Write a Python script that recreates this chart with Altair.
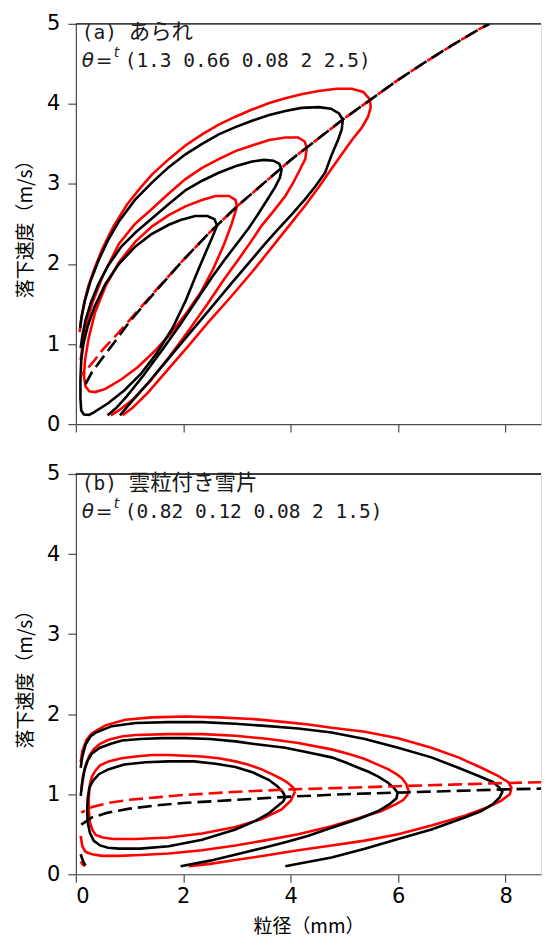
import altair as alt
import pandas as pd

X_TICKS = [0, 2, 4, 6, 8]
Y_TICKS = [0, 1, 2, 3, 4, 5]
X_DOMAIN = [0, 8.66]
Y_DOMAIN = [0, 5]

LABEL_A = ("(a)", "あられ")
LABEL_B = ("(b)", "雲粒付き雪片")
THETA_A = "(1.3 0.66 0.08 2 2.5)"
THETA_B = "(0.82 0.12 0.08 2 1.5)"
X_TITLE = "粒径（mm）"
Y_TITLE = "落下速度（m/s）"

# ---------------- panel (a) : contours (D [mm], V [m/s]) ----------------
A_BLACK_1 = [(2.63, 2.48), (2.58, 2.56), (2.45, 2.60), (2.22, 2.60), (1.95, 2.55), (1.73, 2.49),
             (1.40, 2.37), (1.11, 2.22), (0.80, 2.00), (0.55, 1.75), (0.35, 1.47), (0.22, 1.22),
             (0.14, 1.00), (0.10, 0.80), (0.085, 0.55), (0.085, 0.32), (0.10, 0.17), (0.15, 0.12),
             (0.24, 0.115), (0.32, 0.14), (0.60, 0.26), (0.90, 0.42), (1.20, 0.62), (1.50, 0.88),
             (1.80, 1.20), (2.05, 1.55), (2.25, 1.88), (2.42, 2.15), (2.55, 2.35), (2.63, 2.48)]
A_RED_1 = [(3.00, 2.72), (2.97, 2.80), (2.85, 2.85), (2.60, 2.85), (2.35, 2.80), (2.04, 2.72),
           (1.73, 2.61), (1.42, 2.47), (1.11, 2.28), (0.80, 2.02), (0.55, 1.72), (0.36, 1.40),
           (0.24, 1.08), (0.17, 0.80), (0.15, 0.60), (0.18, 0.47), (0.25, 0.41), (0.36, 0.40),
           (0.55, 0.44), (0.85, 0.56), (1.15, 0.71), (1.45, 0.90), (1.75, 1.12), (2.05, 1.38),
           (2.32, 1.64), (2.55, 1.93), (2.75, 2.23), (2.90, 2.50), (3.00, 2.72)]
A_BLACK_2 = [(0.09, 0.95), (0.12, 1.10), (0.18, 1.30), (0.28, 1.52), (0.42, 1.75), (0.60, 1.98),
             (0.85, 2.22), (1.12, 2.40), (1.42, 2.57), (1.73, 2.75), (2.04, 2.92), (2.35, 3.04),
             (2.66, 3.14), (2.97, 3.22), (3.28, 3.28), (3.50, 3.30), (3.68, 3.29), (3.79, 3.25),
             (3.83, 3.18), (3.80, 3.08), (3.71, 2.96), (3.56, 2.80), (3.40, 2.63), (3.22, 2.45),
             (3.03, 2.28), (2.80, 2.08), (2.55, 1.85), (2.25, 1.55), (1.95, 1.25), (1.60, 0.92),
             (1.25, 0.60), (0.95, 0.35), (0.75, 0.20), (0.59, 0.11)]
A_RED_2 = [(0.09, 0.80), (0.12, 0.98), (0.18, 1.20), (0.30, 1.50), (0.50, 1.85), (0.80, 2.25),
           (1.10, 2.50), (1.42, 2.69), (1.73, 2.88), (2.04, 3.06), (2.35, 3.20), (2.66, 3.31),
           (2.97, 3.41), (3.28, 3.48), (3.60, 3.55), (3.90, 3.58), (4.14, 3.58), (4.26, 3.53),
           (4.30, 3.45), (4.27, 3.31), (4.18, 3.19), (4.05, 3.02), (3.90, 2.85), (3.68, 2.66),
           (3.46, 2.48), (3.25, 2.27), (3.03, 2.06), (2.75, 1.80), (2.45, 1.50), (2.10, 1.17),
           (1.75, 0.85), (1.40, 0.55), (1.05, 0.30), (0.80, 0.17), (0.65, 0.11)]
A_BLACK_3 = [(0.08, 1.20), (0.11, 1.35), (0.17, 1.55), (0.27, 1.78), (0.42, 2.04), (0.60, 2.30),
             (0.80, 2.53), (1.10, 2.80), (1.42, 3.02), (1.73, 3.21), (2.04, 3.37), (2.35, 3.50),
             (2.66, 3.62), (2.97, 3.71), (3.28, 3.79), (3.60, 3.86), (3.90, 3.91), (4.20, 3.95),
             (4.52, 3.96), (4.75, 3.94), (4.90, 3.88), (4.97, 3.80), (4.95, 3.68), (4.88, 3.55),
             (4.76, 3.36), (4.64, 3.14), (4.46, 2.97), (4.27, 2.81), (4.02, 2.62), (3.77, 2.44),
             (3.52, 2.25), (3.28, 2.06), (2.90, 1.76), (2.50, 1.44), (2.10, 1.12), (1.70, 0.80),
             (1.35, 0.52), (1.05, 0.29), (0.82, 0.11)]
A_RED_3 = [(0.07, 1.15), (0.10, 1.32), (0.15, 1.50), (0.23, 1.72), (0.35, 1.95), (0.50, 2.20),
           (0.70, 2.47), (0.95, 2.74), (1.20, 2.95), (1.42, 3.12), (1.73, 3.31), (2.04, 3.48),
           (2.35, 3.62), (2.66, 3.74), (2.97, 3.84), (3.28, 3.93), (3.60, 4.01), (3.90, 4.07),
           (4.20, 4.12), (4.52, 4.16), (4.85, 4.19), (5.14, 4.19), (5.35, 4.15), (5.47, 4.06),
           (5.49, 3.96), (5.44, 3.84), (5.32, 3.70), (5.14, 3.55), (4.96, 3.38), (4.76, 3.19),
           (4.52, 2.96), (4.27, 2.73), (4.02, 2.52), (3.77, 2.31), (3.52, 2.10), (3.28, 1.90),
           (2.90, 1.60), (2.50, 1.30), (2.10, 0.98), (1.70, 0.67), (1.35, 0.40), (1.05, 0.20),
           (0.87, 0.11)]
A_DASH_BLACK = [(0.18, 0.50), (0.30, 0.65), (0.50, 0.83), (0.75, 1.05), (1.00, 1.28), (1.50, 1.67),
                (2.00, 2.05), (2.50, 2.40), (3.00, 2.72), (3.50, 3.01), (4.00, 3.30), (4.50, 3.56),
                (5.00, 3.82), (5.50, 4.06), (6.00, 4.30), (6.50, 4.52), (7.00, 4.73), (7.50, 4.93),
                (7.70, 5.00)]
A_DASH_RED = [(0.10, 0.62), (0.20, 0.68), (0.35, 0.80), (0.50, 0.93), (0.75, 1.11), (1.00, 1.30),
              (1.50, 1.68), (2.00, 2.05), (2.50, 2.40), (3.00, 2.72), (3.50, 3.01), (4.00, 3.30),
              (4.50, 3.56), (5.00, 3.82), (5.50, 4.06), (6.00, 4.30), (6.50, 4.52), (7.00, 4.73),
              (7.50, 4.93), (7.70, 5.00)]

# ---------------- panel (b) ----------------
B_BLACK_1 = [(3.90, 0.96), (3.86, 1.02), (3.75, 1.10), (3.59, 1.18), (3.30, 1.27), (2.97, 1.34),
             (2.60, 1.38), (2.20, 1.41), (1.73, 1.41), (1.30, 1.40), (0.90, 1.37), (0.60, 1.31),
             (0.43, 1.25), (0.32, 1.17), (0.25, 1.08), (0.22, 0.95), (0.21, 0.80), (0.22, 0.65),
             (0.26, 0.52), (0.33, 0.42), (0.45, 0.36), (0.60, 0.33), (0.80, 0.32), (1.20, 0.32),
             (1.73, 0.35), (2.35, 0.43), (2.97, 0.56), (3.35, 0.67), (3.59, 0.76), (3.75, 0.85),
             (3.86, 0.91), (3.90, 0.96)]
B_RED_1 = [(4.08, 1.03), (4.05, 1.08), (3.95, 1.14), (3.83, 1.19), (3.65, 1.25), (3.46, 1.31),
           (3.20, 1.37), (2.97, 1.41), (2.66, 1.45), (2.35, 1.47), (2.04, 1.48), (1.73, 1.49),
           (1.42, 1.49), (1.11, 1.47), (0.85, 1.45), (0.61, 1.41), (0.45, 1.36), (0.37, 1.30),
           (0.30, 1.22), (0.26, 1.12), (0.24, 0.95), (0.24, 0.80), (0.26, 0.65), (0.31, 0.55),
           (0.37, 0.49), (0.50, 0.46), (0.70, 0.44), (1.11, 0.44), (1.73, 0.46), (2.35, 0.51),
           (2.97, 0.59), (3.46, 0.69), (3.83, 0.81), (4.00, 0.92), (4.08, 1.03)]
B_BLACK_2 = [(0.09, 0.98), (0.12, 1.15), (0.16, 1.30), (0.22, 1.42), (0.30, 1.51), (0.45, 1.58),
             (0.65, 1.63), (0.86, 1.67), (1.20, 1.69), (1.60, 1.70), (2.04, 1.70), (2.50, 1.69),
             (2.97, 1.66), (3.40, 1.62), (3.90, 1.58), (4.33, 1.52), (4.76, 1.46), (5.05, 1.39),
             (5.26, 1.33), (5.45, 1.28), (5.63, 1.22), (5.80, 1.15), (5.92, 1.08), (5.99, 1.02),
             (5.97, 0.95), (5.85, 0.88), (5.63, 0.79), (5.26, 0.69), (4.76, 0.58), (4.33, 0.48),
             (3.90, 0.40), (3.50, 0.33), (3.00, 0.25), (2.50, 0.17), (1.95, 0.10)]
B_RED_2 = [(0.10, 1.04), (0.13, 1.22), (0.18, 1.36), (0.25, 1.48), (0.33, 1.56), (0.45, 1.63),
           (0.61, 1.68), (0.85, 1.72), (1.11, 1.74), (1.73, 1.75), (2.35, 1.75), (2.97, 1.73),
           (3.59, 1.69), (4.14, 1.64), (4.76, 1.56), (5.10, 1.50), (5.38, 1.44), (5.62, 1.37),
           (5.82, 1.31), (5.97, 1.25), (6.07, 1.20), (6.15, 1.13), (6.19, 1.05), (6.17, 0.99),
           (6.10, 0.93), (5.97, 0.88), (5.69, 0.79), (5.26, 0.70), (4.76, 0.60), (4.14, 0.50),
           (3.50, 0.42), (2.97, 0.36), (2.35, 0.30), (1.73, 0.26), (1.20, 0.24), (0.80, 0.23),
           (0.49, 0.23), (0.30, 0.25), (0.18, 0.28), (0.12, 0.35), (0.09, 0.48)]
B_BLACK_3 = [(0.09, 1.33), (0.12, 1.47), (0.18, 1.62), (0.27, 1.72), (0.37, 1.77), (0.67, 1.85),
             (1.11, 1.89), (1.73, 1.90), (2.35, 1.90), (2.97, 1.88), (3.59, 1.85), (4.14, 1.82),
             (4.76, 1.77), (5.38, 1.69), (6.00, 1.58), (6.62, 1.46), (7.12, 1.33), (7.49, 1.23),
             (7.77, 1.15), (7.89, 1.08), (7.94, 1.03), (7.89, 0.96), (7.77, 0.88), (7.55, 0.79),
             (7.24, 0.71), (6.62, 0.56), (6.00, 0.44), (5.38, 0.32), (4.76, 0.21), (4.14, 0.13),
             (3.90, 0.10)]
B_RED_3 = [(0.09, 1.40), (0.12, 1.54), (0.20, 1.68), (0.30, 1.76), (0.55, 1.86), (0.92, 1.93),
           (1.42, 1.96), (2.04, 1.97), (2.66, 1.96), (3.28, 1.94), (3.90, 1.90), (4.33, 1.87),
           (4.76, 1.83), (5.38, 1.78), (6.00, 1.70), (6.62, 1.58), (7.12, 1.46), (7.55, 1.33),
           (7.86, 1.23), (8.05, 1.15), (8.11, 1.08), (8.08, 1.00), (7.92, 0.92), (7.68, 0.84),
           (7.24, 0.73), (6.62, 0.61), (6.00, 0.50), (5.38, 0.42), (4.76, 0.36), (4.14, 0.30),
           (3.50, 0.23), (3.00, 0.18), (2.50, 0.13), (2.10, 0.10)]
B_BLACK_CORNER = [(0.09, 0.25), (0.12, 0.19), (0.15, 0.14), (0.18, 0.11)]
B_RED_CORNER = [(0.09, 0.16), (0.13, 0.12), (0.17, 0.10)]
B_DASH_BLACK = [(0.10, 0.62), (0.30, 0.71), (0.60, 0.77), (1.00, 0.82), (1.50, 0.86), (2.00, 0.89),
                (3.00, 0.93), (4.00, 0.97), (5.00, 1.00), (6.00, 1.02), (7.00, 1.04), (8.00, 1.06),
                (8.66, 1.07)]
B_DASH_RED = [(0.10, 0.77), (0.30, 0.84), (0.60, 0.89), (1.00, 0.93), (1.50, 0.96), (2.00, 0.99),
              (3.00, 1.03), (4.00, 1.06), (5.00, 1.08), (6.00, 1.10), (7.00, 1.12), (8.00, 1.14),
              (8.66, 1.15)]

MONO_FONT = "DejaVu Sans Mono"
CJK_FONT = "Noto Sans CJK JP"
TICK_FONT = "DejaVu Sans"
AXIS_COLOR = "#4d4d4d"
TEXT_COLOR = "#1a1a1a"
LINE_W = 2.6


def to_df(curves):
    rows = []
    for name, pts in curves:
        for i, (d, v) in enumerate(pts):
            rows.append({"curve": name, "i": i, "D": d, "V": v})
    return pd.DataFrame(rows)


def panel(red_curves, black_curves, dash_red, dash_black, label, theta, bottom):
    xaxis = alt.Axis(values=X_TICKS, tickSize=8, labelPadding=3, labelFontSize=21,
                     labelFont=TICK_FONT, labelColor="black", domainColor=AXIS_COLOR,
                     tickColor=AXIS_COLOR, domainWidth=1.2, tickWidth=1.2, grid=False,
                     labels=bottom, title=X_TITLE if bottom else None,
                     titleFont=CJK_FONT, titleFontSize=19, titleFontWeight="normal",
                     titlePadding=11, titleColor="black")
    yaxis = alt.Axis(values=Y_TICKS, format="d", tickSize=8, labelPadding=8, labelFontSize=21,
                     labelFont=TICK_FONT, labelColor="black", domainColor=AXIS_COLOR,
                     tickColor=AXIS_COLOR, domainWidth=1.2, tickWidth=1.2, grid=False,
                     title=Y_TITLE, titleFont=CJK_FONT, titleFontSize=19,
                     titleFontWeight="normal", titlePadding=11, titleColor="black")
    xs = alt.Scale(domain=X_DOMAIN, nice=False, zero=False)
    ys = alt.Scale(domain=Y_DOMAIN, nice=False, zero=False)

    def lines(df, color, dash=None, offset=None):
        kw = dict(color=color, strokeWidth=LINE_W, clip=True, strokeCap="butt")
        if dash:
            kw["strokeDash"] = dash
        if offset is not None:
            kw["strokeDashOffset"] = offset
        return alt.Chart(df).mark_line(**kw).encode(
            x=alt.X("D:Q", scale=xs, axis=xaxis),
            y=alt.Y("V:Q", scale=ys, axis=yaxis),
            detail="curve:N",
            order="i:Q",
        )

    red = lines(to_df(red_curves), "#ff0000")
    black = lines(to_df(black_curves), "black")
    dred = lines(to_df([("dr", dash_red)]), "#ff0000", [14, 6], 10)
    dblack = lines(to_df([("db", dash_black)]), "black", [14, 6])

    top = alt.Chart(pd.DataFrame({"V": [Y_DOMAIN[1]]})).mark_rule(
        color="black", strokeWidth=1.3).encode(y=alt.Y("V:Q", scale=ys))

    txt = pd.DataFrame({"D": [0.11], "V1": [4.88], "V2": [4.53]})

    def text(t, ycol, font, size, dx=0, dy=0, style="normal"):
        return alt.Chart(txt).mark_text(text=t, align="left", baseline="middle", dx=dx, dy=dy,
                                        font=font, fontSize=size, fontStyle=style,
                                        color=TEXT_COLOR).encode(
            x=alt.X("D:Q", scale=xs), y=alt.Y(ycol + ":Q", scale=ys))

    t_pre = text(label[0], "V1", MONO_FONT, 19.5)
    t_name = text(label[1], "V1", CJK_FONT, 21.5, dx=47)
    t_theta = text("θ", "V2", "DejaVu Sans", 20, style="italic")
    t_eq = text("=", "V2", "DejaVu Sans", 20, dx=14)
    t_t = text("t", "V2", "DejaVu Sans", 14, dx=32, dy=-8, style="italic")
    t_par = text(theta, "V2", MONO_FONT, 19.5, dx=43)

    return alt.layer(red, black, dred, dblack, top, t_pre, t_name, t_theta, t_eq, t_t,
                     t_par).properties(width=466, height=401)


pa = panel([("r1", A_RED_1), ("r2", A_RED_2), ("r3", A_RED_3)],
           [("b1", A_BLACK_1), ("b2", A_BLACK_2), ("b3", A_BLACK_3)],
           A_DASH_RED, A_DASH_BLACK, LABEL_A, THETA_A, False)
pb = panel([("r1", B_RED_1), ("r2", B_RED_2), ("r3", B_RED_3), ("rc", B_RED_CORNER)],
           [("b1", B_BLACK_1), ("b2", B_BLACK_2), ("b3", B_BLACK_3), ("bc", B_BLACK_CORNER)],
           B_DASH_RED, B_DASH_BLACK, LABEL_B, THETA_B, True)

chart = alt.vconcat(pa, pb, spacing=27).properties(
    padding={"left": 8, "top": 3, "right": 0, "bottom": 0}
).configure_view(stroke=None).configure(background="white")

chart.save("out.html", embed_options={"renderer": "svg", "actions": False})
